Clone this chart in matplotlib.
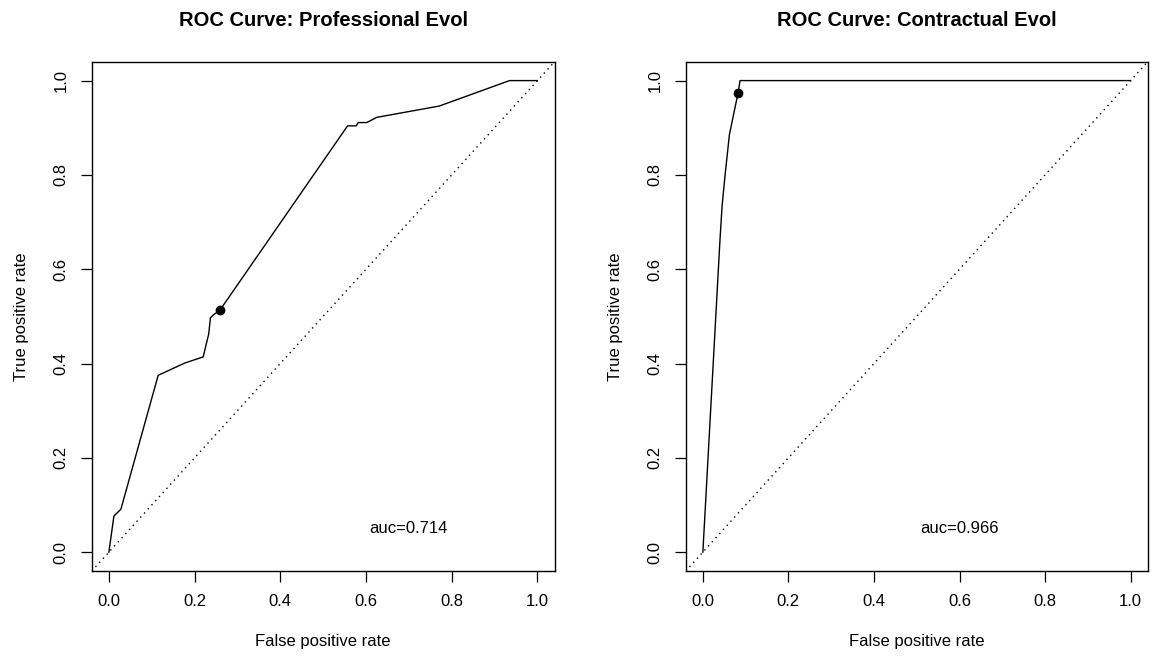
# -*- coding: utf-8 -*-

'''
Two ROC curves side by side, R base graphics look.
'''

import numpy as np
import matplotlib
matplotlib.use('Agg')
import matplotlib.pyplot as plt

# Professional Evol curve
prof_fpr = [0.0, 0.0117, 0.028, 0.115, 0.177, 0.220, 0.233, 0.237, 0.245,
            0.259, 0.557, 0.577, 0.582, 0.602, 0.625, 0.771, 0.935, 1.0]
prof_tpr = [0.0, 0.0765, 0.091, 0.375, 0.401, 0.414, 0.463, 0.497, 0.504,
            0.513, 0.904, 0.904, 0.911, 0.911, 0.922, 0.946, 1.0, 1.0]
prof_cut = (0.259, 0.513)
prof_auc = 0.714

# Contractual Evol curve
cont_fpr = [0.0, 0.040, 0.045, 0.052, 0.062, 0.0824, 0.087, 1.0]
cont_tpr = [0.0, 0.662, 0.735, 0.800, 0.885, 0.9746, 1.0, 1.0]
cont_cut = (0.0824, 0.9746)
cont_auc = 0.966

titles = ['ROC Curve: Professional Evol', 'ROC Curve: Contractual Evol']
auc_xpos = [0.70, 0.60]

plt.rcParams['font.family'] = ['Liberation Sans', 'DejaVu Sans']


def plot_roc(ax, fpr, tpr, cut, auc, title, auc_x):

    ax.plot(fpr, tpr, color='black', lw=1.0)
    ax.plot([-0.04, 1.04], [-0.04, 1.04], color='black', lw=1.0,
            linestyle=(0, (1, 3)))
    ax.plot([cut[0]], [cut[1]], 'o', color='black', ms=6)

    ax.text(auc_x, 0.05, f'auc={auc:0.3f}', ha='center', va='center',
            fontsize=12)

    ax.set_xlim(-0.04, 1.04)
    ax.set_ylim(-0.04, 1.04)

    ticks = np.arange(0, 1.01, 0.2)
    ax.set_xticks(ticks)
    ax.set_yticks(ticks)
    ax.set_xticklabels([f'{t:0.1f}' for t in ticks])
    ax.set_yticklabels([f'{t:0.1f}' for t in ticks], rotation=90,
                       va='center')

    ax.tick_params(direction='out', length=7.7, width=0.9, labelsize=12,
                   pad=9)

    for sp in ax.spines.values():
        sp.set_linewidth(1.0)

    ax.set_xlabel('False positive rate', fontsize=12, labelpad=18)
    ax.set_ylabel('True positive rate', fontsize=12, labelpad=18)
    ax.set_title(title, fontsize=14.5, fontweight='bold', pad=26)
    return


fig = plt.figure(figsize=(11.57, 6.58), dpi=100)

ax_l = fig.add_axes([0.0793, 0.1322, 0.4000, 0.7740])
ax_r = fig.add_axes([0.5927, 0.1322, 0.3993, 0.7740])

plot_roc(ax_l, prof_fpr, prof_tpr, prof_cut, prof_auc, titles[0], auc_xpos[0])
plot_roc(ax_r, cont_fpr, cont_tpr, cont_cut, cont_auc, titles[1], auc_xpos[1])

fig.savefig('out.png', dpi=100)
plt.close(fig)
